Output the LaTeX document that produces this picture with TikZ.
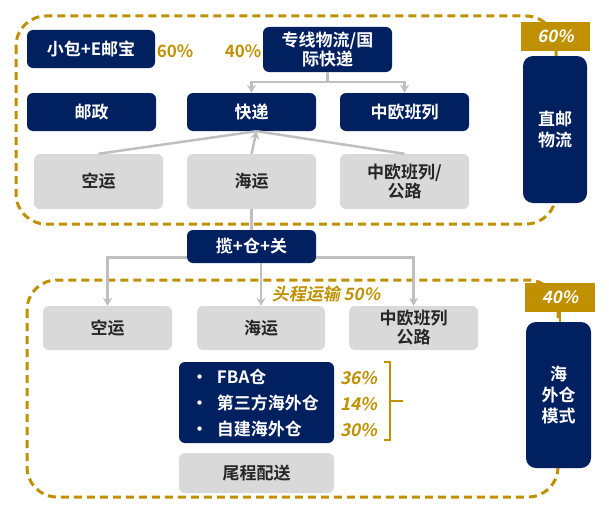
\documentclass[tikz,border=0pt]{standalone}
\usepackage{fontspec}
\setmainfont{Noto Sans CJK SC}[BoldFont={Noto Sans CJK SC Bold},
  ItalicFont={Noto Sans CJK SC}, ItalicFeatures={FakeSlant=0.2},
  BoldItalicFont={Noto Sans CJK SC Bold}, BoldItalicFeatures={FakeSlant=0.2}]
\usepackage{tikz}
\usetikzlibrary{arrows.meta}

\definecolor{navy}{RGB}{0,32,96}
\definecolor{gold}{RGB}{191,144,0}
\definecolor{boxgray}{RGB}{217,217,217}
\definecolor{linegray}{RGB}{191,191,191}

\tikzset{
  sz/.style 2 args={minimum width=#1pt, minimum height=#2pt},
  navybox/.style={fill=navy, text=white, rounded corners=6pt, inner sep=0pt,
    align=center, font=\fontsize{17}{19}\selectfont\bfseries},
  graybox/.style={fill=boxgray, text=black!85, rounded corners=6pt, inner sep=0pt,
    align=center, font=\fontsize{17}{19}\selectfont\bfseries},
  tallbox/.style={navybox, rounded corners=10pt, font=\fontsize{17}{21}\selectfont\bfseries},
  pctbox/.style={fill=gold, text=white, inner sep=0pt,
    font=\fontsize{17}{19}\selectfont\bfseries\itshape},
  pcttext/.style={text=gold, inner sep=0pt, font=\fontsize{17}{19}\selectfont\bfseries},
  conn/.style={draw=linegray, line width=2.5pt},
  frame/.style={draw=gold, line width=3pt, dash pattern=on 8pt off 5pt, rounded corners=30pt}
}

\begin{document}
\begin{tikzpicture}[x=1pt,y=-1pt,>={Stealth[length=8pt,width=9pt]}]
    \useasboundingbox (0,0) rectangle (609,519);
    % dashed frames
    \draw[frame] (16,16) rectangle (556,224);
    \draw[frame] (27,280) rectangle (558,497);

    % upper part: direct mail
    \node[navybox,sz={128}{38}] (xb) at (91,49) {小包+E邮宝};
    \node[pcttext] (p60a) at (175,51) {60\%};
    \node[pcttext] (p40a) at (243,51) {40\%};
    \node[navybox,sz={129}{45}] (zx) at (327.5,49.5) {专线物流/国\\际快递};
    \node[navybox,sz={129}{38}] (yz) at (91.5,112) {邮政};
    \node[navybox,sz={129}{38}] (kd) at (251.5,112) {快递};
    \node[navybox,sz={129}{38}] (zo) at (404.5,112) {中欧班列};
    \node[graybox,sz={129}{55}] (ky) at (98.5,181.5) {空运};
    \node[graybox,sz={129}{55}] (hy) at (251.5,181.5) {海运};
    \node[graybox,sz={129}{55}] (zg) at (404.5,181.5) {中欧班列/\\公路};
    \node[pctbox,sz={69}{29}] (p60) at (555.5,36.5) {60\%};
    \node[tallbox,sz={64}{147}] (zy) at (555,129.5) {直邮\\物流};

    % lower part: overseas warehouse
    \node[navybox,sz={129}{33}] (lz) at (251.5,246.5) {揽+仓+关};
    \node[pcttext,font=\fontsize{17}{19}\selectfont\bfseries\itshape] (tc) at (326,294) {头程运输 50\%};
    \node[graybox,sz={129}{44}] (ky2) at (107.5,328) {空运};
    \node[graybox,sz={128}{44}] (hy2) at (261,328) {海运};
    \node[graybox,sz={129}{44}] (zg2) at (413.5,328) {中欧班列\\公路};
    \node[navybox,sz={155}{81},align=left,text width=131pt,
      font=\fontsize{17}{26}\selectfont\bfseries] (wh) at (256.5,402.5)
      {\makebox[26pt][l]{\textbullet}FBA仓\\\makebox[26pt][l]{\textbullet}第三方海外仓\\\makebox[26pt][l]{\textbullet}自建海外仓};
    \node[graybox,sz={155}{40}] (wp) at (256.5,473) {尾程配送};
    \node[pcttext,align=center,font=\fontsize{17.5}{26}\selectfont\bfseries\itshape] (pl) at (359,404) {36\%\\14\%\\30\%};
    \node[pctbox,sz={70}{29}] (p40) at (560,297.5) {40\%};
    \node[tallbox,sz={65}{146}] (hw) at (558.5,395) {海\\外仓\\模式};

    % connectors
    \draw[conn,->] (zx.south) -- ++(0,10) -| (kd.north);
    \draw[conn,->] (zx.south) -- ++(0,10) -| (zo.north);
    \draw[conn] (ky.north) -- ([xshift=5pt]kd.south);
    \draw[conn] (zg.north) -- ([xshift=5pt]kd.south);
    \draw[conn,->] (hy.north) -- ([xshift=5pt]kd.south);
    \draw[conn] (hy.south) -- (lz.north);
    \draw[conn,->] ([yshift=-11pt]lz.west) -| (ky2.north);
    \draw[conn,->] ([yshift=-11pt]lz.east) -| (zg2.north);
    \draw[conn,->] (lz.south -| hy2.north) -- (hy2.north);
    \draw[gold,line width=2pt] (p60.south) -- (p60.south |- zy.north);
    \draw[gold,line width=2pt] (p40.south) -- (p40.south |- hw.north);
    % bracket
    \draw[gold,line width=1.5pt] (384,362) -- (390,362) -- (390,440) -- (384,440)
      (390,401) -- (403,401);
\end{tikzpicture}
\end{document}
